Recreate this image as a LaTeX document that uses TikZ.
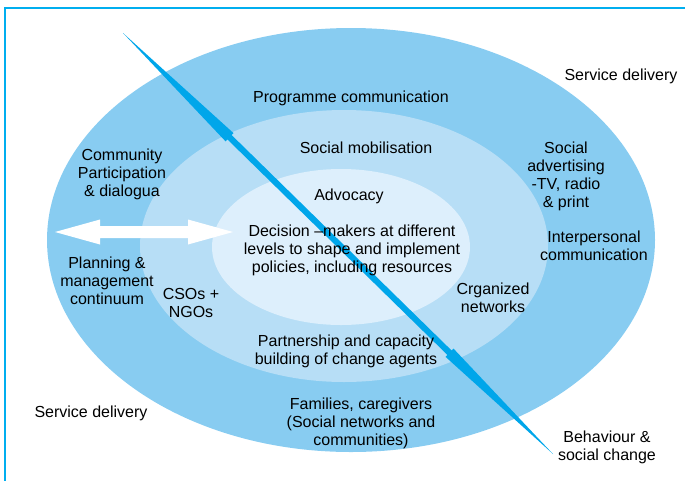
\documentclass[tikz,border=0pt]{standalone}
\usepackage{fontspec}
\setmainfont{Liberation Sans}
\usetikzlibrary{calc}
\definecolor{outerc}{HTML}{88CCF1}
\definecolor{midc}{HTML}{B7DEF6}
\definecolor{innerc}{HTML}{DDEFFC}
\definecolor{framec}{HTML}{00AEEF}
\definecolor{slashc}{HTML}{00A6EA}
\tikzset{
  lbl/.style={align=center, font=\fontsize{16}{18}\selectfont, text=black, inner sep=0pt},
}
\begin{document}
\begin{tikzpicture}[x=1pt,y=-1pt]
\useasboundingbox (0,0) rectangle (685,480);
\begin{scope}
\clip (0,0) rectangle (685,480);
% frame
\draw[framec, line width=2.5pt] (5,500) -- (5,8) -- (700,8);
% ellipses
\fill[outerc] (351,240) ellipse [x radius=304, y radius=212];
\fill[midc] (344,246) ellipse [x radius=204, y radius=136];
\fill[innerc] (341,247) ellipse [x radius=129, y radius=78];
\end{scope}
% double-headed white arrow
\coordinate (dl) at (55,232);
\coordinate (dr) at (233,232);
\fill[white] (dl) -- ++(45,-12.5) -- ++(0,6.5) -- ++(88,0) -- ++(0,-6.5) -- (dr)
  -- ++(-45,12.5) -- ++(0,-6.5) -- ++(-88,0) -- ++(0,6.5) -- cycle;
% diagonal slash arrow
\coordinate (sa) at (123,33);
\coordinate (sb) at (553,454);
\fill[slashc] (sa) -- (233.5,133.1) -- (231.6,135.0) -- (451.6,350.5) -- (453.5,348.6) -- (sb)
  -- (445.5,356.8) -- (447.4,354.9) -- (227.4,139.4) -- (225.5,141.3) -- cycle;
% labels
\node[lbl] (sdtop) at (621,76) {Service delivery};
\node[lbl] (sdbot) at (91,413) {Service delivery};
\node[lbl] (prog) at (351,98) {Programme communication};
\node[lbl] (socmob) at (366,148) {Social mobilisation};
\node[lbl] (adv) at (349,196) {Advocacy};
\node[lbl] (dec) at (352,250) {Decision \textendash makers at different\\levels to shape and implement\\policies, including resources};
\node[lbl] (comm) at (122,174) {Community\\Participation\\\& dialogua};
\node[lbl] (plan) at (107,281) {Planning \&\\management\\continuum};
\node[lbl] (cso) at (191,303) {CSOs +\\NGOs};
\node[lbl] (part) at (346,351) {Partnership and capacity\\building of change agents};
\node[lbl] (fam) at (361,423) {Families, caregivers\\(Social networks and\\communities)};
\node[lbl] (sadv) at (566,176) {Social\\advertising\\-TV, radio\\\& print};
\node[lbl] (inter) at (594,246) {Interpersonal\\communication};
\node[lbl] (org) at (493,298) {Crganized\\networks};
\node[lbl] (beh) at (607,447) {Behaviour \&\\social change};
\end{tikzpicture}
\end{document}
